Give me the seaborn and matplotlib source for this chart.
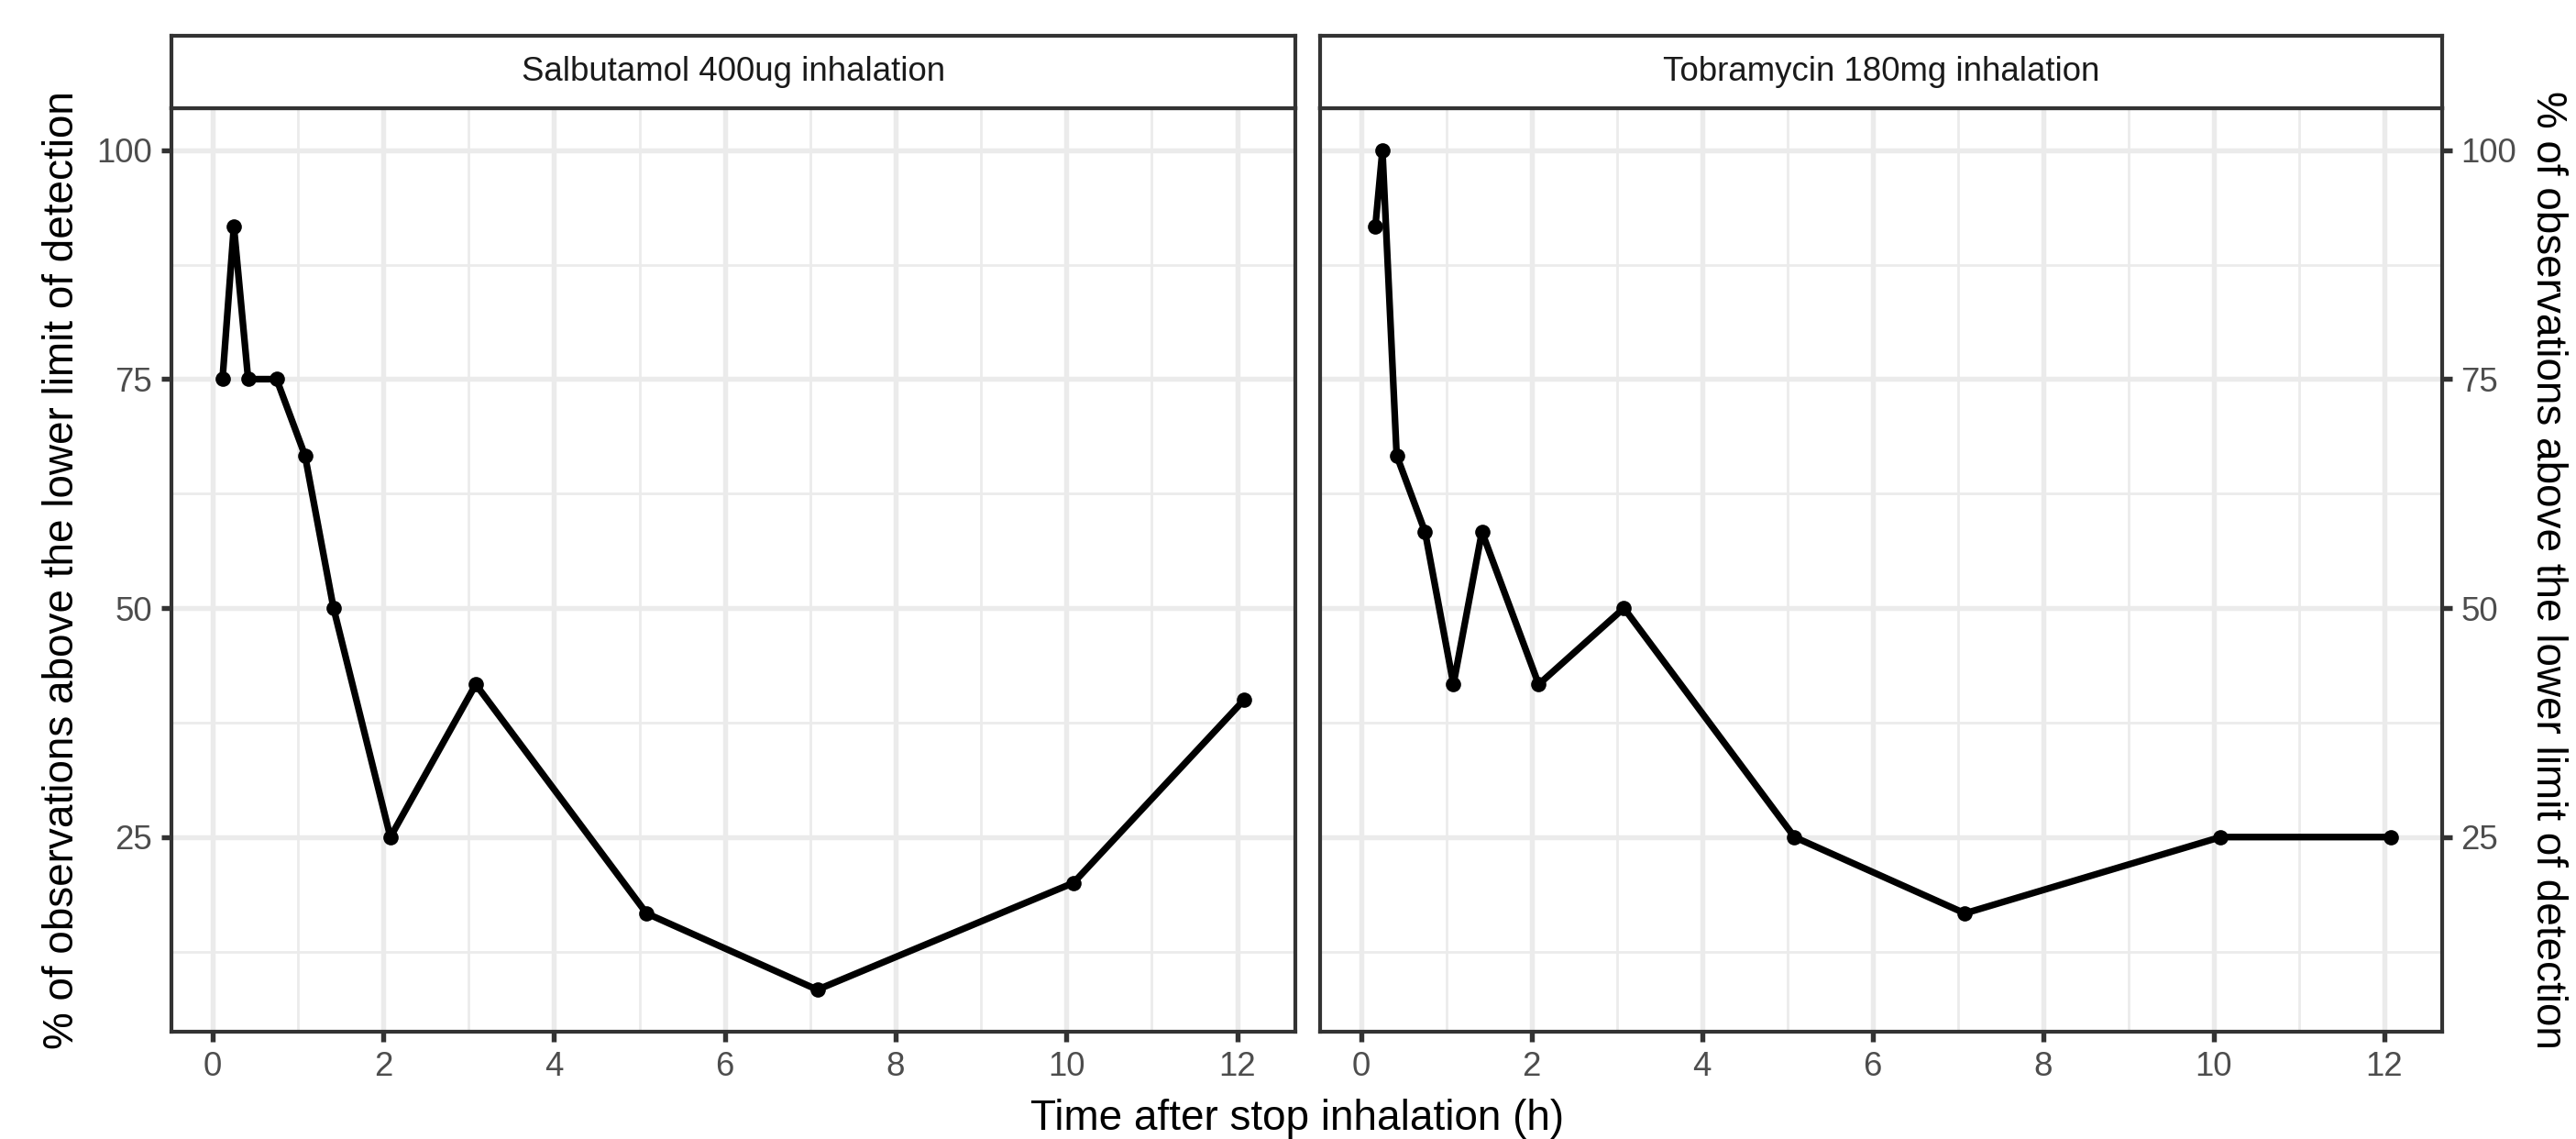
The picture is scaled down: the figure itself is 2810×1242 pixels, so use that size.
import matplotlib
matplotlib.use("Agg")
import matplotlib.pyplot as plt
import seaborn as sns
import pandas as pd
import numpy as np

# ---- data ----
panel_titles = ["Salbutamol 400ug inhalation", "Tobramycin 180mg inhalation"]
salb_time = [0.117, 0.25, 0.417, 0.75, 1.083, 1.417, 2.083, 3.083, 5.083, 7.083, 10.083, 12.083]
salb_pct = [75, 91.67, 75, 75, 66.67, 50, 25, 41.67, 16.67, 8.33, 20, 40]
tobra_time = [0.167, 0.25, 0.417, 0.75, 1.083, 1.417, 2.083, 3.083, 5.083, 7.083, 10.083, 12.083]
tobra_pct = [91.67, 100, 66.67, 58.33, 41.67, 58.33, 41.67, 50, 25, 16.67, 25, 25]
x_ticks = [0, 2, 4, 6, 8, 10, 12]
y_ticks = [25, 50, 75, 100]
x_label = "Time after stop inhalation (h)"
y_label = "% of observations above the lower limit of detection"

sns.set_theme(style="white")
plt.rcParams["font.family"] = ["Liberation Sans", "DejaVu Sans"]

W, H = 2811, 1242
DPI = 300
fig = plt.figure(figsize=(W / DPI, H / DPI), dpi=DPI)
fig.patch.set_facecolor("white")

border = "#333333"
grid_c = "#EBEBEB"
lw_grid = 1.3
lw_border = 1.0
lw_line = 1.75

panels_x = [(187, 1413), (1440, 2664)]
p_top, p_bot = 118, 1125
s_top, s_bot = 39, 118

all_t = salb_time + tobra_time
all_p = salb_pct + tobra_pct
xr = max(all_t) - min(all_t)
yr = max(all_p) - min(all_p)
xlim = (min(all_t) - 0.05 * xr, max(all_t) + 0.05 * xr)
ylim = (min(all_p) - 0.05 * yr, max(all_p) + 0.05 * yr)

datasets = [
    pd.DataFrame({"time": salb_time, "pct": salb_pct}),
    pd.DataFrame({"time": tobra_time, "pct": tobra_pct}),
]

for i, ((x0, x1), df, title) in enumerate(zip(panels_x, datasets, panel_titles)):
    ax = fig.add_axes([x0 / W, 1 - p_bot / H, (x1 - x0) / W, (p_bot - p_top) / H])
    ax.set_facecolor("white")
    sns.lineplot(data=df, x="time", y="pct", ax=ax, color="black", linewidth=lw_line,
                 marker="o", markersize=4.0, markeredgewidth=0, zorder=3)
    ax.set_xlim(xlim)
    ax.set_ylim(ylim)
    ax.set_xticks(x_ticks)
    ax.set_yticks(y_ticks)
    ax.set_xticks([1, 3, 5, 7, 9, 11], minor=True)
    ax.set_yticks([12.5, 37.5, 62.5, 87.5], minor=True)
    ax.grid(which="major", color=grid_c, linewidth=lw_grid, zorder=0)
    ax.grid(which="minor", color=grid_c, linewidth=lw_grid / 2, zorder=0)
    ax.set_axisbelow(True)
    for sp in ax.spines.values():
        sp.set_color(border)
        sp.set_linewidth(lw_border)
        sp.set_visible(True)
    ax.tick_params(axis="both", which="major", length=2.75, width=1.3, color=border,
                   labelsize=8.8, labelcolor="#4D4D4D", pad=2.2)
    ax.tick_params(axis="both", which="minor", length=0)
    ax.tick_params(axis="x", bottom=True)
    if i == 0:
        ax.tick_params(axis="y", left=True, right=False, labelleft=True, labelright=False)
    else:
        ax.tick_params(axis="y", left=False, right=True, labelleft=False, labelright=True)
    ax.set_xlabel("")
    ax.set_ylabel("")

    sax = fig.add_axes([x0 / W, 1 - s_bot / H, (x1 - x0) / W, (s_bot - s_top) / H])
    sax.set_facecolor("white")
    sax.set_xticks([])
    sax.set_yticks([])
    for sp in sax.spines.values():
        sp.set_color(border)
        sp.set_linewidth(lw_border)
        sp.set_visible(True)
    sax.text(0.5, 0.5, title, ha="center", va="center", fontsize=8.8,
             color="#1A1A1A", transform=sax.transAxes)

fig.text(1415 / W, 10 / H, x_label, ha="center", va="baseline", fontsize=11, color="black")
fig.text(68 / W, 1 - ((p_top + p_bot) / 2) / H, y_label, ha="center", va="center",
         rotation=90, fontsize=11, color="black")
fig.text(2779 / W, 1 - ((p_top + p_bot) / 2) / H, y_label, ha="center", va="center",
         rotation=-90, fontsize=11, color="black")

fig.savefig("out.png", dpi=DPI, facecolor="white")
